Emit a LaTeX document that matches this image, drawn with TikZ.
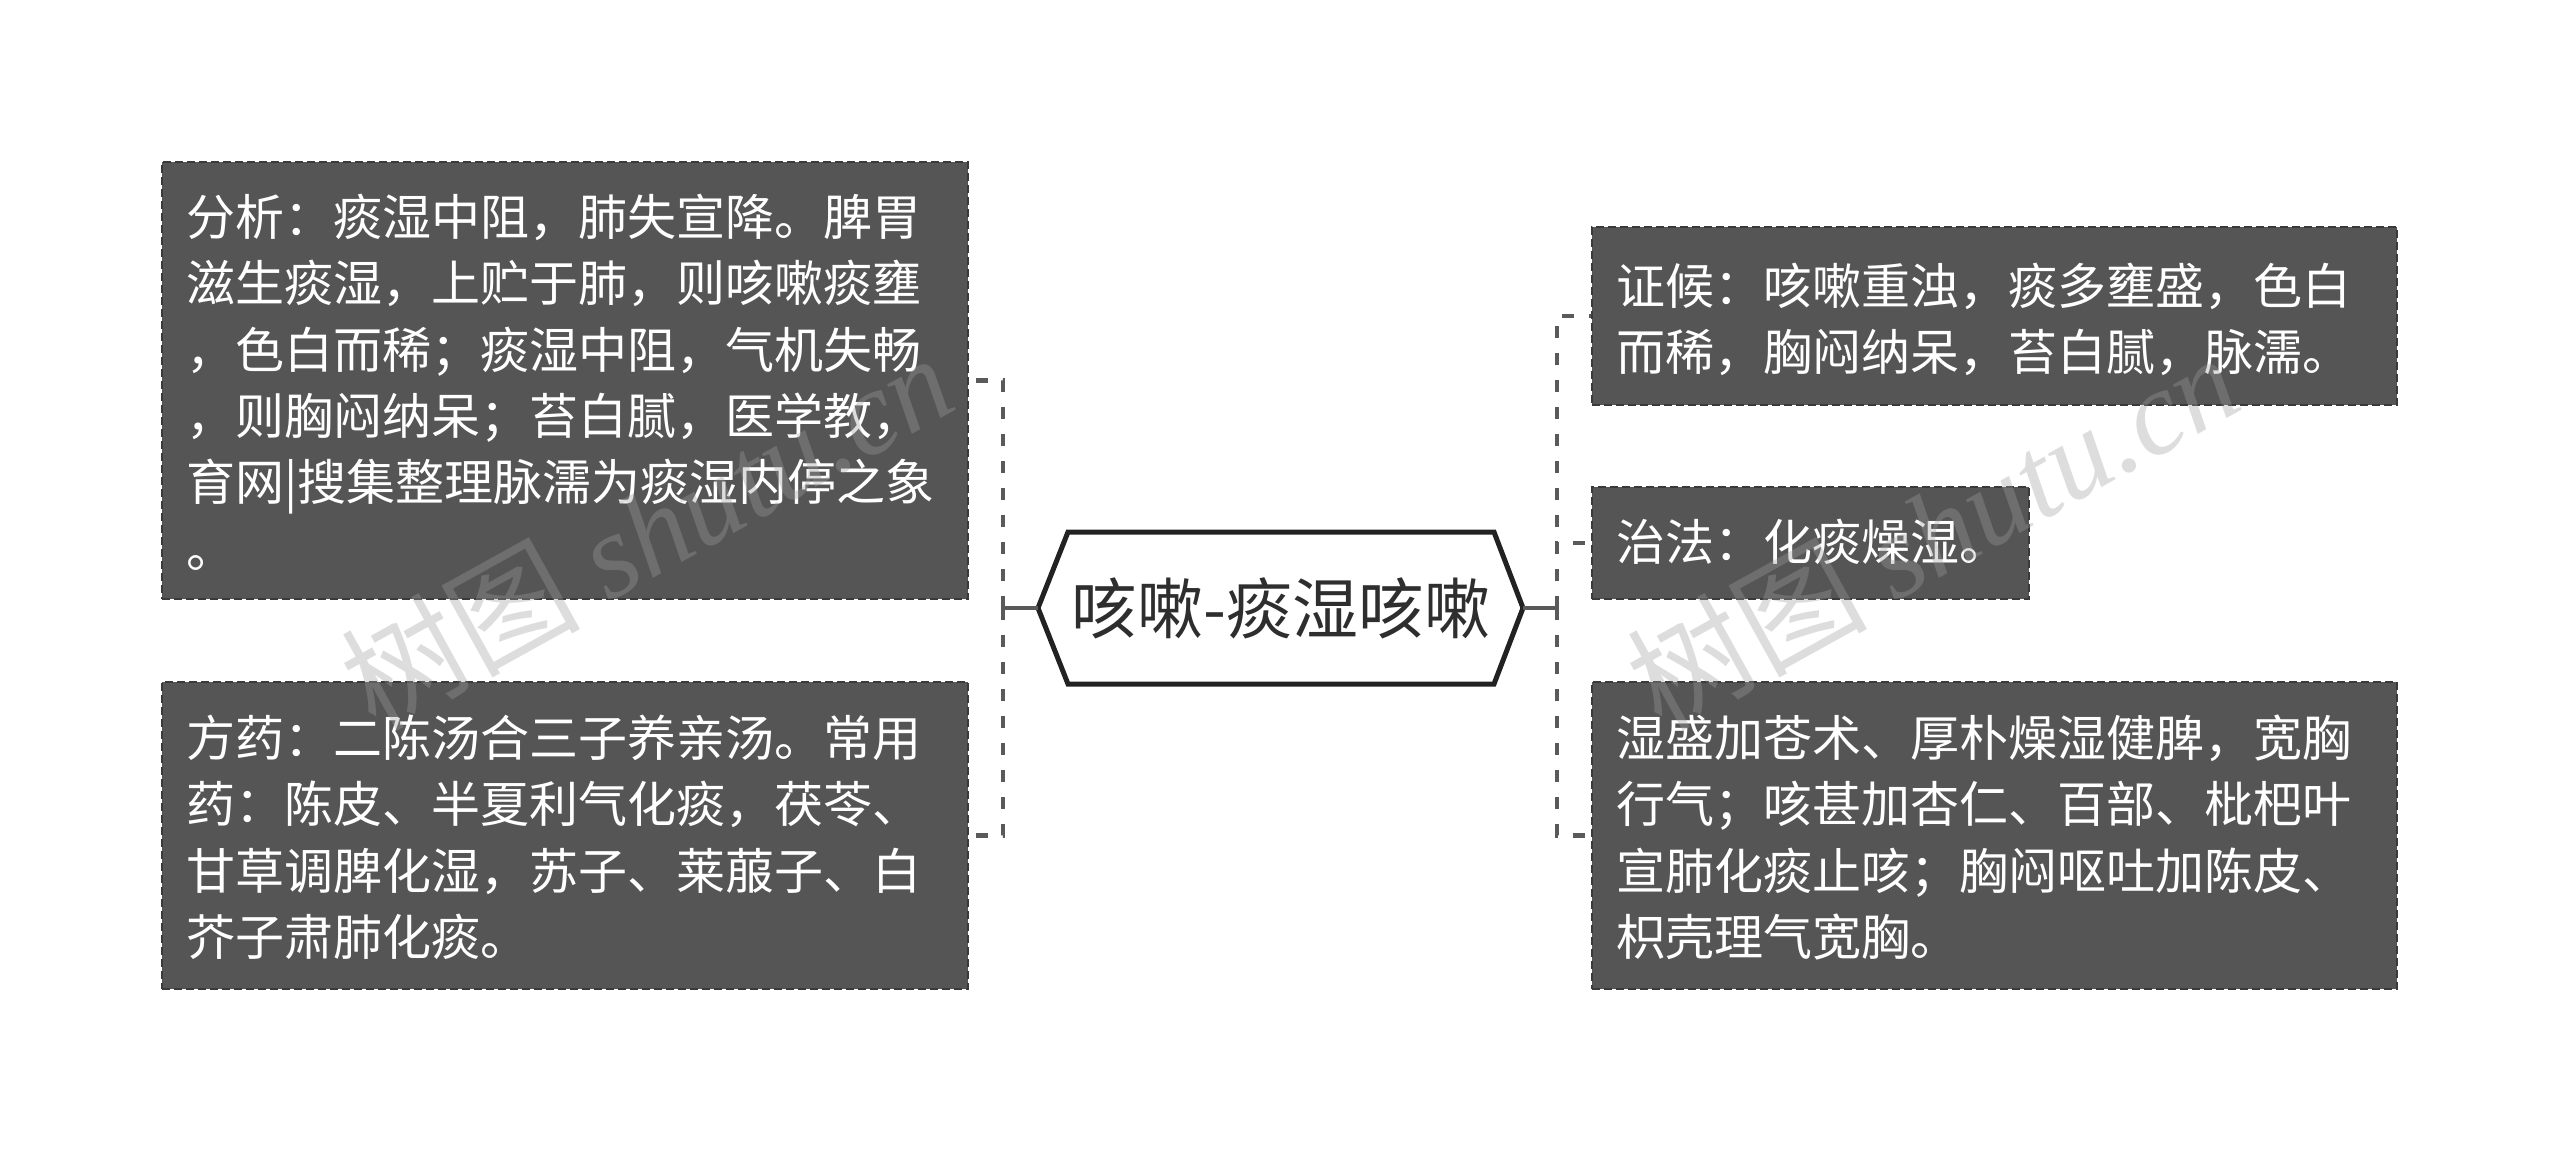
\documentclass[tikz,border=0pt]{standalone}
\usepackage{fontspec}
\setmainfont{Noto Sans CJK SC}
\newfontfamily\wmlatin{Liberation Serif}
\definecolor{boxfill}{HTML}{555555}
\definecolor{boxline}{HTML}{3A3A3A}
\definecolor{conn}{HTML}{5A5A5A}
\definecolor{hexline}{HTML}{222222}
\definecolor{wm}{HTML}{9E9E9E}
\begin{document}
\begin{tikzpicture}[x=1pt,y=-1pt,
  box/.style={draw=boxline, line width=2.5pt, dash pattern=on 8pt off 4pt, fill=boxfill, inner sep=0pt},
  boxtext/.style={text=white, anchor=base west, inner sep=0pt, align=left, font=\fontsize{49pt}{66.5pt}\selectfont},
  link/.style={draw=conn, line width=4.5pt, dash pattern=on 12pt off 15pt},
  stem/.style={draw=conn, line width=4.5pt},
  wmark/.style={text=wm, opacity=0.35, rotate=29, inner sep=0pt}]
\fill[white] (0,0) rectangle (2560,1153);
\useasboundingbox (0,0) rectangle (2560,1153);

% boxes
\node[box, minimum width=806pt, minimum height=437pt] (L1) at (565,380.5) {};
\node[box, minimum width=806pt, minimum height=307pt] (L2) at (565,835.5) {};
\node[box, minimum width=805pt, minimum height=178pt] (R1) at (1994.5,316) {};
\node[box, minimum width=437pt, minimum height=112pt] (R2) at (1810.5,543) {};
\node[box, minimum width=805pt, minimum height=307pt] (R3) at (1994.5,835.5) {};

% texts
\node[boxtext, text width=770pt] (L1t) at (186,235) {分析：痰湿中阻，肺失宣降。脾胃\\滋生痰湿，上贮于肺，则咳嗽痰壅\\，色白而稀；痰湿中阻，气机失畅\\，则胸闷纳呆；苔白腻，医学教，\\育网|搜集整理脉濡为痰湿内停之象\\。};
\node[boxtext, text width=770pt] (L2t) at (186,756) {方药：二陈汤合三子养亲汤。常用\\药：陈皮、半夏利气化痰，茯苓、\\甘草调脾化湿，苏子、莱菔子、白\\芥子肃肺化痰。};
\node[boxtext, text width=770pt] (R1t) at (1616,304) {证候：咳嗽重浊，痰多壅盛，色白\\而稀，胸闷纳呆，苔白腻，脉濡。};
\node[boxtext, text width=430pt] (R2t) at (1616,560) {治法：化痰燥湿。};
\node[boxtext, text width=770pt] (R3t) at (1616,756) {湿盛加苍术、厚朴燥湿健脾，宽胸\\行气；咳甚加杏仁、百部、枇杷叶\\宣肺化痰止咳；胸闷呕吐加陈皮、\\枳壳理气宽胸。};

% central hexagon
\coordinate (CL) at (1038,608);
\coordinate (CR) at (1523,608);
\coordinate (Cnw) at (1068,532);
\coordinate (Cne) at (1494,532);
\coordinate (Cse) at (1494,684);
\coordinate (Csw) at (1068,684);
\draw[hexline, line width=5pt, fill=white, line join=miter] (Cnw) -- (Cne) -- (CR) -- (Cse) -- (Csw) -- (CL) -- cycle;
\node[inner sep=0pt, font=\fontsize{66pt}{70pt}\selectfont, text=black!82] (C) at (1281,608) {咳嗽-痰湿咳嗽};

% connectors
\coordinate (JL) at (1003,608);
\coordinate (JR) at (1557,608);
\draw[stem] (CL) -- (JL);
\draw[link] (JL) |- (L1.east);
\draw[link] (JL) |- (L2.east);
\draw[stem] (CR) -- (JR);
\draw[link] (JR) |- (R1.west);
\draw[link] (JR) |- (R2.west);
\draw[link] (JR) |- (R3.west);

% watermarks
\node[wmark] (W1) at (646,530) {\fontsize{120pt}{120pt}\selectfont 树图 {\wmlatin\itshape shutu.cn}};
\node[wmark] (W2) at (1932,530) {\fontsize{120pt}{120pt}\selectfont 树图 {\wmlatin\itshape shutu.cn}};
\end{tikzpicture}
\end{document}
